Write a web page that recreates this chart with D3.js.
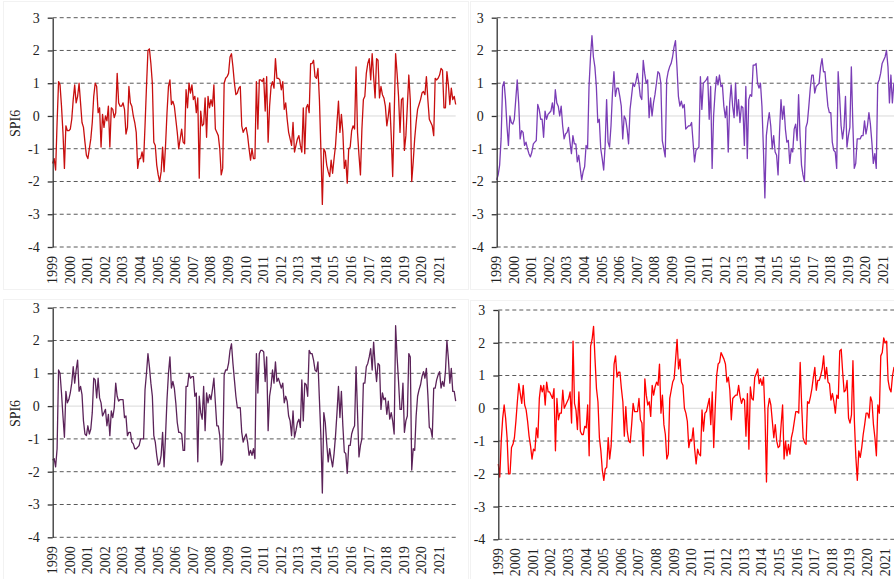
<!DOCTYPE html>
<html>
<head>
<meta charset="utf-8">
<script src="https://cdn.jsdelivr.net/npm/d3@7"></script>
<style>
    html, body { margin: 0; padding: 0; background: #fff; }
    #chart { width: 894px; height: 579px; }
    .axis text, .year-label, .y-title { font-family: "Liberation Serif", "Times New Roman", serif; font-size: 14px; fill: #222; }
</style>
</head>
<body>
<div id="chart"></div>
<script>

// tick labels / categories
const years = [1999, 2000, 2001, 2002, 2003, 2004, 2005, 2006, 2007, 2008, 2009, 2010,
    2011, 2012, 2013, 2014, 2015, 2016, 2017, 2018, 2019, 2020, 2021];
const yTicks = [-4, -3, -2, -1, 0, 1, 2, 3];

// monthly SPI6 values, one row per year (Jan..Dec)
const spiTopLeft = [
    -1.45,-1.3,-1.65,-0.2,1.05,0.95,0.3,-0.5,-1.6,-0.3,-0.45,-0.45,
    -0.4,-0.1,0.5,0.95,0.4,0.6,1.0,0.4,-0.2,-0.35,-0.8,-1.2,
    -1.3,-1.0,-0.7,-0.2,0.6,1.0,0.9,0.1,0.25,-0.95,0.05,-0.35,
    0.0,-0.15,0.3,-0.95,0.25,0.2,-0.05,0.1,1.3,0.4,0.3,0.3,
    0.4,0.2,-0.55,-0.35,0.9,0.4,0.3,0.0,-0.2,-0.5,-1.6,-1.3,
    -1.3,-1.1,-1.4,-0.3,0.9,2.0,2.05,1.6,1.0,-0.8,-0.9,-1.5,
    -1.8,-2.0,-1.7,-0.95,-1.7,-0.9,0.1,0.9,1.1,0.35,0.45,0.3,
    -0.1,-0.5,-1.0,-0.7,-0.4,-0.8,-0.85,0.8,0.25,1.0,0.7,0.95,
    0.5,0.6,0.1,0.55,-1.9,0.15,-0.3,-0.25,0.55,-0.65,0.6,0.25,
    0.5,0.3,0.95,-0.4,-0.5,-0.6,-1.0,-1.8,-1.6,1.0,1.15,1.2,
    1.3,1.8,1.9,1.5,1.0,0.65,0.7,0.85,0.9,-0.3,-0.5,-0.4,
    -0.35,-0.6,-1.0,-1.35,-1.0,-1.3,-1.3,1.05,-0.4,1.1,1.1,1.05,
    1.15,0.15,1.2,-0.8,0.3,0.9,1.05,0.85,1.75,1.15,1.15,1.1,
    0.8,1.05,0.2,0.4,-0.1,-0.5,-0.7,-0.9,-0.2,-1.1,-0.9,-0.7,
    -0.6,-0.9,-1.1,0.25,-1.15,0.25,0.35,0.1,1.6,1.6,1.7,1.2,
    1.15,1.45,0.5,-1.0,-2.7,-1.0,-1.1,-1.5,-1.7,-1.85,-1.35,-1.75,
    -1.3,-0.9,-0.2,0.45,-0.5,0.05,-0.5,-1.6,-1.35,-2.05,-1.0,-0.95,
    -0.45,-0.3,-0.4,1.5,-0.5,-1.2,-1.8,-0.4,0.5,0.6,1.3,1.6,
    1.75,1.1,1.9,1.2,0.55,1.75,1.7,0.55,0.9,0.65,0.55,0.3,
    -0.3,0.0,0.4,-0.6,-1.85,0.0,1.9,1.3,0.6,-0.5,0.5,0.55,
    -1.05,-0.6,0.3,1.25,0.5,-2.0,-1.4,-0.7,-0.2,0.2,0.35,0.5,
    0.7,0.75,0.65,1.2,0.5,-0.1,-0.2,-0.3,-0.6,1.15,1.1,1.15,
    1.25,1.45,1.4,0.25,0.25,1.35,0.95,0.35,0.85,0.5,0.6,0.35
];

const spiTopRight = [
    -1.95,-1.8,-1.5,-0.7,0.9,1.05,0.5,-0.3,-0.9,0.0,-0.2,-0.25,
    -0.1,0.5,1.1,0.4,-0.7,-0.45,-0.5,-0.9,-0.8,-1.0,-1.15,-1.25,
    -1.1,-0.85,-0.8,-0.75,0.35,0.2,-0.1,-0.1,-0.65,0.15,-0.1,0.05,
    0.1,0.15,0.4,0.05,0.8,0.4,0.3,0.0,0.3,-0.3,-0.7,-0.55,
    -0.5,-0.35,-0.8,-1.15,-0.6,-0.85,-0.85,-1.4,-1.2,-1.6,-1.95,-1.7,
    -1.55,-0.9,-1.0,0.9,1.8,2.45,1.8,1.5,0.9,-0.2,-0.1,-1.0,
    -1.3,-1.65,-0.9,0.5,-0.8,-0.95,-0.3,0.7,1.35,0.6,0.85,0.85,
    0.6,0.3,-0.7,0.0,-0.1,-0.4,-0.85,0.2,0.6,1.0,0.9,1.05,
    1.3,1.0,0.6,0.5,1.7,1.3,1.0,1.1,-0.05,0.55,0.0,0.4,
    0.65,1.0,1.35,1.3,1.0,-0.75,-1.0,-1.25,1.1,1.35,1.5,1.6,
    1.8,2.1,2.3,1.5,0.6,0.3,0.45,0.25,0.35,-0.4,-0.35,-0.3,
    -0.3,-0.2,-0.8,-1.4,-1.05,-1.0,-0.95,1.2,0.2,1.0,1.05,1.1,
    1.2,-0.1,0.9,-1.6,0.0,0.7,1.2,0.95,1.25,0.9,0.95,0.3,
    -0.05,0.3,-1.1,0.4,0.95,0.3,-0.05,1.0,0.0,0.5,-0.2,0.3,
    0.25,-0.9,0.9,-1.3,0.5,0.65,0.6,1.55,1.55,1.6,1.0,0.85,
    1.0,0.3,-1.0,-2.5,-0.6,-0.2,0.1,-0.3,-1.0,-0.6,-1.1,-1.2,
    -1.8,-0.5,0.5,-0.1,0.3,-0.4,-0.8,-0.75,-1.45,-1.0,-1.1,-0.4,
    -0.25,-0.75,0.65,-0.6,-1.5,-1.8,-2.0,-0.35,-0.2,0.3,0.85,1.25,
    1.25,0.7,0.9,0.95,1.0,1.5,1.75,1.35,1.35,0.8,0.3,0.1,
    0.1,-0.8,-1.05,-1.1,-1.6,1.35,0.6,-0.3,-0.7,-0.35,0.6,-0.95,
    -0.6,-0.35,1.5,-0.2,-1.6,-1.45,-0.7,-0.7,-0.7,-0.6,-0.6,-0.15,
    -0.55,-0.3,0.1,-0.25,-0.8,-1.45,-1.15,-1.6,1.0,1.1,1.3,1.6,
    1.7,1.8,2.0,1.5,0.4,1.25,0.4,1.0,0.6,0.5,0.7,0.5
];

const spiBottomLeft = [
    -1.65,-1.6,-1.85,-1.3,1.1,1.0,0.4,-0.3,-0.95,0.45,0.1,0.2,
    0.4,0.7,1.2,0.7,1.1,1.4,0.45,0.6,0.35,-0.45,-0.85,-0.9,
    -0.6,-0.85,-0.7,-0.2,0.85,0.8,0.25,0.85,0.25,0.1,-0.3,-0.2,
    -0.1,-0.6,-0.25,-0.9,-0.15,-0.35,-0.05,0.7,0.3,0.15,0.2,0.2,
    0.2,-0.35,-0.3,-0.9,-0.8,-0.8,-1.1,-1.15,-1.3,-1.3,-1.25,-1.2,
    -1.0,-1.0,-1.0,0.5,1.0,1.6,1.2,0.7,0.3,-0.9,-1.1,-1.5,
    -1.8,-1.75,-1.5,-0.8,-1.85,-0.9,0.2,1.0,1.5,0.55,0.75,0.55,
    0.1,-0.5,-0.8,-0.8,-0.85,-1.35,-1.35,0.6,0.6,1.0,0.85,0.9,
    0.9,0.3,0.4,-1.7,0.3,-0.2,-0.4,0.6,-0.75,0.4,0.1,0.35,
    0.2,0.5,0.85,0.1,-0.6,-0.6,-0.9,-1.8,-1.65,0.95,1.1,1.1,
    1.3,1.7,1.9,1.3,0.8,0.3,-0.05,-0.05,-0.05,-0.8,-1.1,-0.95,
    -0.85,-1.1,-1.5,-1.35,-1.5,-1.3,-1.6,1.6,0.4,1.6,1.7,1.7,
    1.65,0.75,1.5,-0.75,0.3,0.6,1.1,0.7,1.35,0.75,0.85,0.7,
    0.55,0.7,0.1,0.3,0.15,-0.3,-0.45,-0.9,-0.15,-0.95,-0.75,-0.5,
    -0.4,-0.65,0.8,-0.45,0.7,0.65,0.3,1.7,1.6,1.6,1.4,1.1,
    1.05,1.35,0.2,-0.9,-2.65,-0.2,-0.5,-1.15,-1.7,-1.3,-1.6,-1.85,
    -1.45,-0.9,-0.2,0.6,-0.35,0.45,-0.6,-1.4,-1.45,-2.05,-1.2,-1.2,
    -0.85,-0.7,-0.6,1.2,-0.2,-1.55,-1.2,-1.0,0.7,0.7,1.2,1.3,
    1.5,1.75,1.1,1.95,1.25,0.75,1.3,1.25,-0.1,0.4,0.2,0.25,
    -0.25,0.15,-0.4,-0.2,-0.45,-0.85,2.45,1.5,0.75,-0.1,-0.1,0.7,
    -0.8,-0.45,-0.3,1.6,1.5,-1.95,-1.3,-1.35,-0.3,0.3,0.5,0.65,
    0.9,1.05,0.85,1.15,0.35,-0.65,-0.7,-0.95,0.55,0.55,0.8,0.95,
    1.05,0.55,0.75,0.6,1.05,2.0,1.45,0.7,1.15,0.45,0.45,0.15
];

const spiBottomRight = [
    -1.7,-2.1,-1.0,-0.3,0.1,-0.3,-0.9,-2.0,-2.0,-1.2,-1.1,-0.9,
    -0.4,0.2,0.75,0.45,0.15,0.7,0.1,-0.05,-0.4,-0.85,-1.15,-1.55,
    -1.25,-1.3,-0.6,-0.9,0.3,0.7,0.5,0.7,0.1,0.8,0.5,0.5,
    0.4,0.3,0.6,-1.3,0.3,-0.35,-0.15,-0.15,0.55,0.0,0.1,0.2,
    0.3,0.5,-0.45,2.05,0.15,-0.05,-0.65,0.5,-0.7,-0.8,-0.8,-0.55,
    -0.6,0.1,-1.45,1.9,2.1,2.5,1.5,0.6,0.2,-0.9,-1.3,-1.9,
    -2.2,-1.85,-1.8,-0.9,-1.55,-1.15,0.0,1.35,1.6,0.95,1.1,1.1,
    0.6,0.2,-0.85,0.05,-0.7,-1.0,-1.05,-0.5,0.15,-0.1,-0.1,-0.1,
    0.3,-0.35,-0.45,-1.45,0.9,0.4,0.1,0.2,-0.25,0.7,0.4,0.65,
    0.8,0.7,1.35,-0.15,0.4,-0.5,-0.8,-1.55,-1.4,0.3,0.55,0.8,
    0.9,1.5,2.1,1.2,1.5,0.8,0.7,0.0,-0.15,-0.4,-1.2,-0.95,
    -1.0,-0.6,-1.25,-1.7,-1.25,-1.4,-1.45,-0.05,-0.7,-0.15,-0.1,0.1,
    0.3,-0.5,0.5,-1.2,0.0,1.0,1.35,1.4,1.7,1.6,1.5,1.35,
    0.8,0.95,0.55,-0.35,0.3,0.35,0.4,0.4,0.7,0.35,0.15,0.3,
    0.25,-0.85,0.45,-1.25,0.65,0.3,0.25,0.95,1.05,1.2,0.75,0.9,
    0.7,0.95,-0.2,-2.25,0.0,0.3,0.1,-0.4,-0.9,-0.5,-1.0,-1.2,
    -1.15,-0.5,0.1,-1.55,-1.0,-1.45,-1.1,-1.4,-0.9,-0.7,-0.4,-0.1,
    -0.1,-0.15,1.4,0.1,-0.9,-1.05,-1.1,0.2,0.15,0.35,0.6,0.95,
    1.25,0.55,0.85,0.85,1.0,1.2,1.6,0.9,1.25,0.8,0.75,0.25,
    0.45,0.2,-0.15,0.4,0.3,1.75,1.8,1.1,0.5,0.55,0.85,-0.3,
    -0.45,-0.2,1.45,-0.4,-1.5,-2.2,-1.3,-1.5,-1.2,-0.8,-0.5,-0.15,
    -0.15,-0.3,0.35,0.2,-0.5,-0.9,-1.45,0.1,-0.15,1.6,1.7,2.15,
    2.0,2.05,0.85,0.6,0.5,1.0,1.25,1.1,0.9,1.0,0.8,0.7
];


class SpiPanel {

    constructor(svg, data, opts){
        this.svg = svg;
        this.data = data;
        this.opts = opts;
        this.initVis();
    }

    initVis(){
        let vis = this;
        let o = vis.opts;

        vis.width = o.width;
        vis.height = o.height;

        // faint chart-area frame
        vis.svg.append('rect')
            .attr('x', o.box[0] + 0.5)
            .attr('y', o.box[1] + 0.5)
            .attr('width', o.box[2])
            .attr('height', o.box[3])
            .attr('fill', 'none')
            .attr('stroke', '#f2f2f2');

        vis.g = vis.svg.append('g')
            .attr('transform', `translate(${o.left}, ${o.top})`);

        vis.x = d3.scaleLinear()
            .domain([0, vis.data.length - 1])
            .range([0, vis.width]);

        vis.y = d3.scaleLinear()
            .domain([-4, 3])
            .range([vis.height, 0]);

        // gridlines (dashed, zero line solid light grey)
        vis.g.selectAll('.grid')
            .data(yTicks)
            .enter().append('line')
            .attr('class', 'grid')
            .attr('x1', 0)
            .attr('x2', vis.width)
            .attr('y1', d => vis.y(d))
            .attr('y2', d => vis.y(d))
            .attr('stroke', d => d === 0 ? '#d9d9d9' : '#5a5a5a')
            .attr('stroke-width', 1)
            .attr('stroke-dasharray', d => d === 0 ? null : '4,3');

        // series line
        vis.line = d3.line()
            .x((d, i) => vis.x(i))
            .y(d => vis.y(d));

        vis.g.append('path')
            .datum(vis.data)
            .attr('d', vis.line)
            .attr('fill', 'none')
            .attr('stroke', o.color)
            .attr('stroke-width', 1.3)
            .attr('stroke-linejoin', 'round');

        // y axis
        vis.yAxis = d3.axisLeft(vis.y)
            .tickValues(yTicks)
            .tickSize(5)
            .tickSizeOuter(0)
            .tickPadding(8)
            .tickFormat(d => String(d));

        vis.yAxisGroup = vis.g.append('g')
            .attr('class', 'axis y-axis')
            .call(vis.yAxis);

        vis.yAxisGroup.selectAll('path, line')
            .attr('stroke', '#333')
            .attr('stroke-width', 1.3);
        vis.yAxisGroup.selectAll('text')
            .attr('fill', '#222');

        // year labels, rotated
        vis.g.selectAll('.year-label')
            .data(years)
            .enter().append('text')
            .attr('class', 'year-label')
            .attr('transform', (d, i) => `translate(${vis.x(i * 12) - 0.5}, ${vis.height + 9}) rotate(-90)`)
            .attr('text-anchor', 'end')
            .attr('dy', '0.35em')
            .text(d => d);

        if (o.title) {
            vis.svg.append('text')
                .attr('class', 'y-title')
                .attr('transform', `translate(15, ${o.top + vis.height / 2 - 9}) rotate(-90)`)
                .attr('text-anchor', 'middle')
                .attr('dy', '0.35em')
                .text(o.title);
        }
    }
}

let svg = d3.select('#chart').append('svg')
    .attr('width', 894)
    .attr('height', 579);

svg.append('rect').attr('width', 894).attr('height', 579).attr('fill', '#fff');

new SpiPanel(svg, spiTopLeft, {
    left: 52.7, top: 17.7, width: 403, height: 229.3,
    color: '#c80f0f', title: 'SPI6', box: [3, 1, 465, 288]
});
new SpiPanel(svg, spiTopRight, {
    left: 496.7, top: 17.7, width: 403, height: 229.3,
    color: '#7a3db6', title: null, box: [470, 1, 440, 288]
});
new SpiPanel(svg, spiBottomLeft, {
    left: 52.7, top: 307.7, width: 403, height: 229.6,
    color: '#5b2359', title: 'SPI6', box: [3, 299, 465, 290]
});
new SpiPanel(svg, spiBottomRight, {
    left: 498.3, top: 310, width: 403, height: 229.3,
    color: '#ff0000', title: null, box: [470, 300, 440, 290]
});

</script>
</body>
</html>
